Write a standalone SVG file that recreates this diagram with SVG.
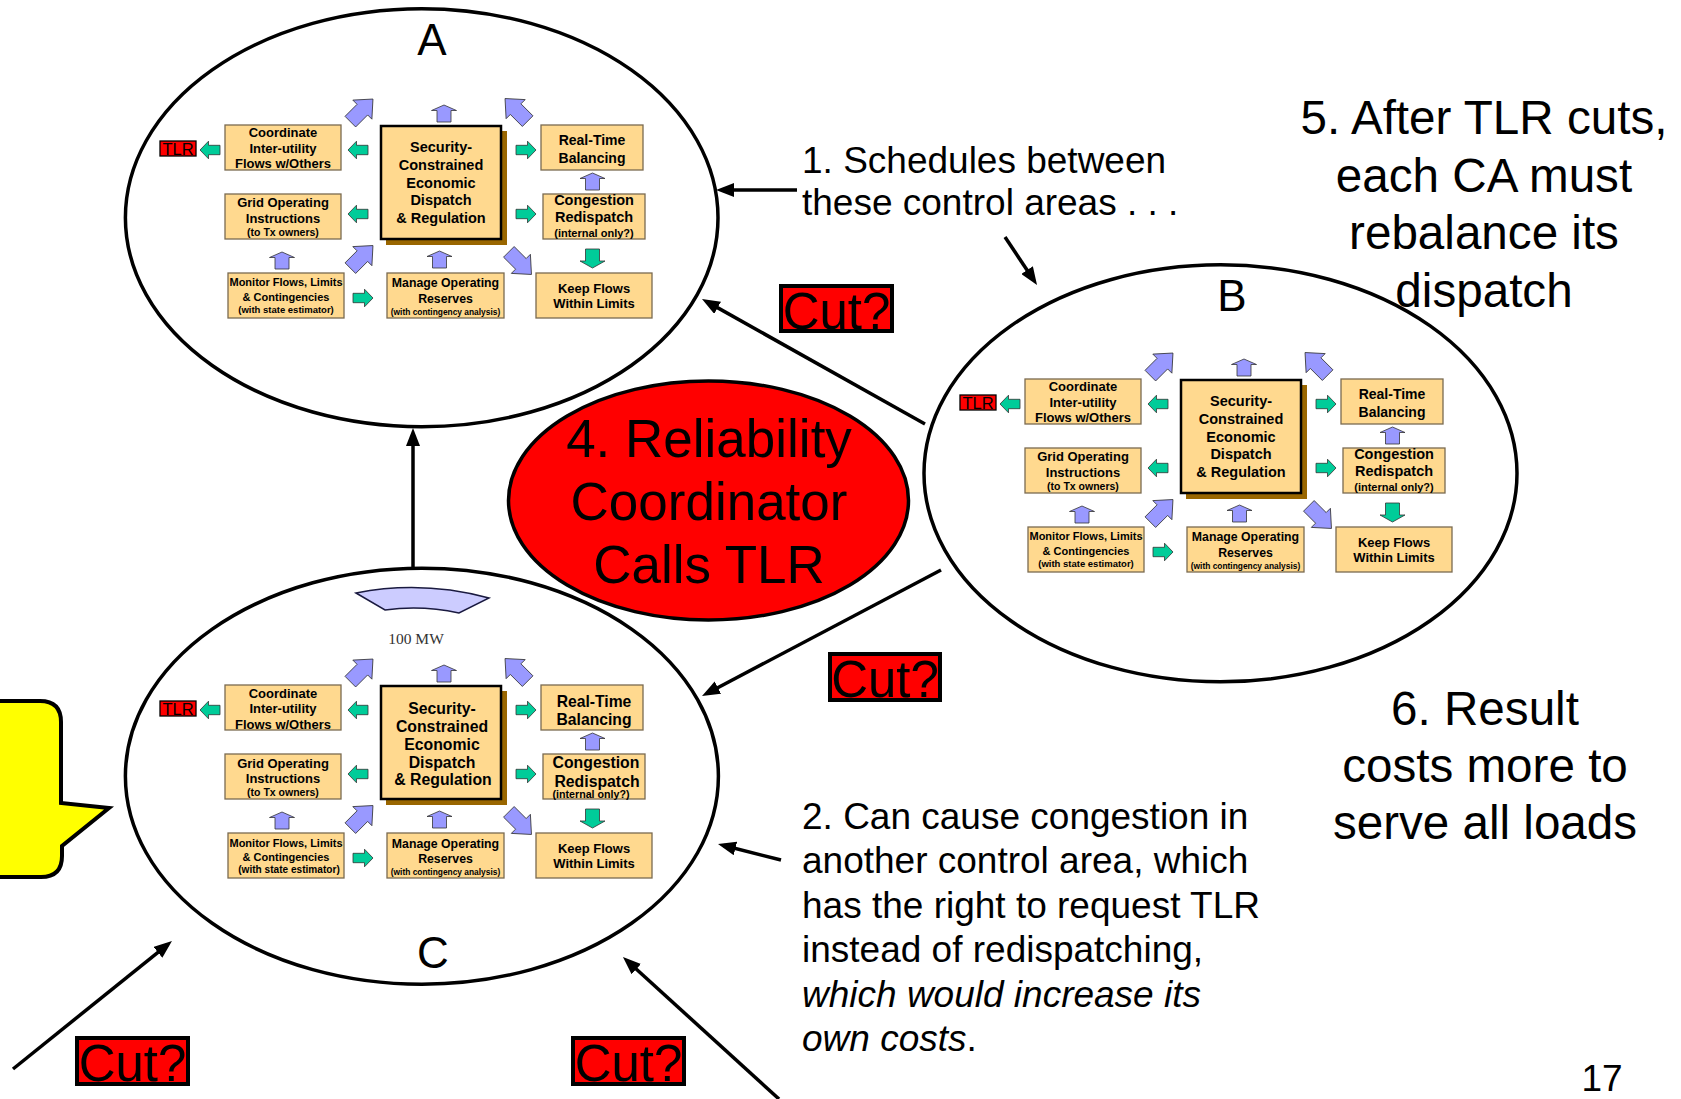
<svg xmlns="http://www.w3.org/2000/svg" xmlns:xlink="http://www.w3.org/1999/xlink" width="1681" height="1099" viewBox="0 0 1681 1099">
<style>
.bx{fill:#FFD98F;stroke:#7a6a50;stroke-width:1.3}
.cb{fill:#FFD98F;stroke:#000;stroke-width:2.5}
.sh{fill:#996600}
.t{font-family:"Liberation Sans",Arial,sans-serif;font-weight:bold;text-anchor:middle;fill:#000}
.g{fill:#00CC99;stroke:#333;stroke-width:0.8}
.p{fill:#9999FF;stroke:#333;stroke-width:0.8}
.tlr{fill:#FF0000;stroke:#000;stroke-width:1.3}
.tlrt{font-family:"Liberation Sans",Arial,sans-serif;font-size:16.5px;text-anchor:middle;fill:#000}
.ell{fill:none;stroke:#000;stroke-width:3.5}
.big{font-family:"Liberation Sans",Arial,sans-serif;fill:#000}
.cut{fill:#FF0000;stroke:#000;stroke-width:4}
.cutt{font-family:"Liberation Sans",Arial,sans-serif;font-size:51px;text-anchor:middle;fill:#000}
.con{stroke:#000;stroke-width:3.5;fill:none;marker-end:url(#ah)}
</style>
<defs>
<marker id="ah" viewBox="0 0 18 14" refX="12" refY="7" markerWidth="18" markerHeight="14" markerUnits="userSpaceOnUse" orient="auto">
<path d="M0,0 L18,7 L0,14 Z" fill="#000"/>
</marker>
<path id="gR" d="M-10,-4.7 H1.5 V-8.8 L10,0 L1.5,8.8 V4.7 H-10 Z"/>
<path id="pU" d="M-7,8.5 V-3 H-12.5 L0,-8.5 L12.5,-3 H7 V8.5 Z"/>
<path id="gD" d="M-7,-9.5 V2.5 H-12.5 L0,9.5 L12.5,2.5 H7 V-9.5 Z"/>
<path id="pDg" d="M-12.25,-7.5 H4.75 V-13.5 L19.75,0 L4.75,13.5 V7.5 H-12.25 Z"/>
</defs>

<rect width="1681" height="1099" fill="#fff"/>

<!-- control area ellipses -->
<g id="ellipseA"><ellipse class="ell" cx="421.7" cy="217.7" rx="296.3" ry="209"/><text class="big" x="432" y="55" font-size="44" text-anchor="middle">A</text></g>
<g id="ellipseB"><ellipse class="ell" cx="1220.5" cy="473.3" rx="296.5" ry="208.5"/><text class="big" x="1232" y="311" font-size="44" text-anchor="middle">B</text></g>
<g id="ellipseC"><ellipse class="ell" cx="421.9" cy="776.2" rx="296.5" ry="208"/><text class="big" x="433" y="968" font-size="44" text-anchor="middle">C</text></g>

<!-- block A -->
<g id="blockA">
<rect class="tlr" x="160" y="141" width="36" height="15"/><text class="tlrt" x="178" y="154.5">TLR</text>
<use href="#gR" class="g" transform="translate(210,150) rotate(180)"/>
<rect class="bx" x="225" y="125" width="116" height="45"/>
<text class="t" font-size="13" x="283" y="137">Coordinate</text>
<text class="t" font-size="13" x="283" y="152.5">Inter-utility</text>
<text class="t" font-size="13" x="283" y="168">Flows w/Others</text>
<use href="#gR" class="g" transform="translate(358,150) rotate(180)"/>
<rect class="bx" x="225" y="194" width="116" height="45"/>
<text class="t" font-size="13" x="283" y="207">Grid Operating</text>
<text class="t" font-size="13" x="283" y="222.5">Instructions</text>
<text class="t" font-size="10.5" x="283" y="236">(to Tx owners)</text>
<use href="#gR" class="g" transform="translate(358,214) rotate(180)"/>
<rect class="sh" x="386" y="131" width="121" height="114"/>
<rect class="cb" x="381" y="126" width="120" height="113"/>
<text class="t" font-size="14.5" x="441" y="152">Security-</text>
<text class="t" font-size="14.5" x="441" y="170">Constrained</text>
<text class="t" font-size="14.5" x="441" y="187.5">Economic</text>
<text class="t" font-size="14.5" x="441" y="205">Dispatch</text>
<text class="t" font-size="14.5" x="441" y="222.5">&amp; Regulation</text>
<use href="#gR" class="g" transform="translate(526,150)"/>
<use href="#gR" class="g" transform="translate(526,214)"/>
<rect class="bx" x="541" y="125" width="102" height="45"/>
<text class="t" font-size="14" x="592" y="145">Real-Time</text>
<text class="t" font-size="14" x="592" y="162.5">Balancing</text>
<use href="#pU" class="p" transform="translate(592.5,181.5)"/>
<rect class="bx" x="543" y="194" width="102" height="45"/>
<text class="t" font-size="14.5" x="594" y="205">Congestion</text>
<text class="t" font-size="14.5" x="594" y="222">Redispatch</text>
<text class="t" font-size="11" x="594" y="236.5">(internal only?)</text>
<use href="#gD" class="g" transform="translate(592.5,258.5)"/>
<rect class="bx" x="536" y="273" width="116" height="45"/>
<text class="t" font-size="13" x="594" y="292.5">Keep Flows</text>
<text class="t" font-size="13" x="594" y="308">Within Limits</text>
<rect class="bx" x="387" y="273" width="117" height="45"/>
<text class="t" font-size="12.3" x="445.5" y="286.5">Manage Operating</text>
<text class="t" font-size="12.3" x="445.5" y="302.5">Reserves</text>
<text class="t" font-size="8.4" x="445.5" y="315">(with contingency analysis)</text>
<rect class="bx" x="228" y="273" width="116" height="45"/>
<text class="t" font-size="11" x="286" y="286">Monitor Flows, Limits</text>
<text class="t" font-size="11" x="286" y="300.5">&amp; Contingencies</text>
<text class="t" font-size="9.5" x="286" y="313">(with state estimator)</text>
<use href="#gR" class="g" transform="translate(363,298)"/>
<use href="#pU" class="p" transform="translate(282,260.5)"/>
<use href="#pU" class="p" transform="translate(439.5,259.5)"/>
<use href="#pU" class="p" transform="translate(444,113.5)"/>
<use href="#pDg" class="p" transform="translate(359,113) rotate(-45)"/>
<use href="#pDg" class="p" transform="translate(519,112.5) rotate(-135)"/>
<use href="#pDg" class="p" transform="translate(359,259.5) rotate(-45)"/>
<use href="#pDg" class="p" transform="translate(517.5,260.5) rotate(45)"/>
</g>

<!-- block B -->
<g id="blockB" transform="translate(800,254)">
<rect class="tlr" x="160" y="141" width="36" height="15"/><text class="tlrt" x="178" y="154.5">TLR</text>
<use href="#gR" class="g" transform="translate(210,150) rotate(180)"/>
<rect class="bx" x="225" y="125" width="116" height="45"/>
<text class="t" font-size="13" x="283" y="137">Coordinate</text>
<text class="t" font-size="13" x="283" y="152.5">Inter-utility</text>
<text class="t" font-size="13" x="283" y="168">Flows w/Others</text>
<use href="#gR" class="g" transform="translate(358,150) rotate(180)"/>
<rect class="bx" x="225" y="194" width="116" height="45"/>
<text class="t" font-size="13" x="283" y="207">Grid Operating</text>
<text class="t" font-size="13" x="283" y="222.5">Instructions</text>
<text class="t" font-size="10.5" x="283" y="236">(to Tx owners)</text>
<use href="#gR" class="g" transform="translate(358,214) rotate(180)"/>
<rect class="sh" x="386" y="131" width="121" height="114"/>
<rect class="cb" x="381" y="126" width="120" height="113"/>
<text class="t" font-size="14.5" x="441" y="152">Security-</text>
<text class="t" font-size="14.5" x="441" y="170">Constrained</text>
<text class="t" font-size="14.5" x="441" y="187.5">Economic</text>
<text class="t" font-size="14.5" x="441" y="205">Dispatch</text>
<text class="t" font-size="14.5" x="441" y="222.5">&amp; Regulation</text>
<use href="#gR" class="g" transform="translate(526,150)"/>
<use href="#gR" class="g" transform="translate(526,214)"/>
<rect class="bx" x="541" y="125" width="102" height="45"/>
<text class="t" font-size="14" x="592" y="145">Real-Time</text>
<text class="t" font-size="14" x="592" y="162.5">Balancing</text>
<use href="#pU" class="p" transform="translate(592.5,181.5)"/>
<rect class="bx" x="543" y="194" width="102" height="45"/>
<text class="t" font-size="14.5" x="594" y="205">Congestion</text>
<text class="t" font-size="14.5" x="594" y="222">Redispatch</text>
<text class="t" font-size="11" x="594" y="236.5">(internal only?)</text>
<use href="#gD" class="g" transform="translate(592.5,258.5)"/>
<rect class="bx" x="536" y="273" width="116" height="45"/>
<text class="t" font-size="13" x="594" y="292.5">Keep Flows</text>
<text class="t" font-size="13" x="594" y="308">Within Limits</text>
<rect class="bx" x="387" y="273" width="117" height="45"/>
<text class="t" font-size="12.3" x="445.5" y="286.5">Manage Operating</text>
<text class="t" font-size="12.3" x="445.5" y="302.5">Reserves</text>
<text class="t" font-size="8.4" x="445.5" y="315">(with contingency analysis)</text>
<rect class="bx" x="228" y="273" width="116" height="45"/>
<text class="t" font-size="11" x="286" y="286">Monitor Flows, Limits</text>
<text class="t" font-size="11" x="286" y="300.5">&amp; Contingencies</text>
<text class="t" font-size="9.5" x="286" y="313">(with state estimator)</text>
<use href="#gR" class="g" transform="translate(363,298)"/>
<use href="#pU" class="p" transform="translate(282,260.5)"/>
<use href="#pU" class="p" transform="translate(439.5,259.5)"/>
<use href="#pU" class="p" transform="translate(444,113.5)"/>
<use href="#pDg" class="p" transform="translate(359,113) rotate(-45)"/>
<use href="#pDg" class="p" transform="translate(519,112.5) rotate(-135)"/>
<use href="#pDg" class="p" transform="translate(359,259.5) rotate(-45)"/>
<use href="#pDg" class="p" transform="translate(517.5,260.5) rotate(45)"/>
</g>

<!-- block C -->
<g id="blockC" transform="translate(0,560)">
<rect class="tlr" x="160" y="141" width="36" height="15"/><text class="tlrt" x="178" y="154.5">TLR</text>
<use href="#gR" class="g" transform="translate(210,150) rotate(180)"/>
<rect class="bx" x="225" y="125" width="116" height="45"/>
<text class="t" font-size="13" x="283" y="137.5">Coordinate</text>
<text class="t" font-size="13" x="283" y="153">Inter-utility</text>
<text class="t" font-size="13" x="283" y="168.5">Flows w/Others</text>
<use href="#gR" class="g" transform="translate(358,150) rotate(180)"/>
<rect class="bx" x="225" y="194" width="116" height="45"/>
<text class="t" font-size="13" x="283" y="208">Grid Operating</text>
<text class="t" font-size="13" x="283" y="223.3">Instructions</text>
<text class="t" font-size="10.5" x="283" y="236">(to Tx owners)</text>
<use href="#gR" class="g" transform="translate(358,214) rotate(180)"/>
<rect class="sh" x="386" y="131" width="121" height="114"/>
<rect class="cb" x="381" y="126" width="120" height="113"/>
<text class="t" font-size="15.8" x="442" y="154">Security-</text>
<text class="t" font-size="15.8" x="442" y="172.3">Constrained</text>
<text class="t" font-size="15.8" x="442" y="190">Economic</text>
<text class="t" font-size="15.8" x="442" y="208.3">Dispatch</text>
<text class="t" font-size="15.8" x="443" y="225">&amp; Regulation</text>
<use href="#gR" class="g" transform="translate(526,150)"/>
<use href="#gR" class="g" transform="translate(526,214)"/>
<rect class="bx" x="541" y="125" width="102" height="45"/>
<text class="t" font-size="15.7" x="594" y="146.7">Real-Time</text>
<text class="t" font-size="15.7" x="594" y="165">Balancing</text>
<use href="#pU" class="p" transform="translate(592.5,181.5)"/>
<rect class="bx" x="543" y="194" width="102" height="45"/>
<text class="t" font-size="15.8" x="596" y="208">Congestion</text>
<text class="t" font-size="15.8" x="597" y="226.5">Redispatch</text>
<text class="t" font-size="10.7" x="591" y="237.7">(internal only?)</text>
<use href="#gD" class="g" transform="translate(592.5,258.5)"/>
<rect class="bx" x="536" y="273" width="116" height="45"/>
<text class="t" font-size="13" x="594" y="292.7">Keep Flows</text>
<text class="t" font-size="13" x="594" y="308.3">Within Limits</text>
<rect class="bx" x="387" y="273" width="117" height="45"/>
<text class="t" font-size="12.3" x="445.5" y="288">Manage Operating</text>
<text class="t" font-size="12.3" x="445.5" y="303">Reserves</text>
<text class="t" font-size="8.4" x="445.5" y="314.5">(with contingency analysis)</text>
<rect class="bx" x="228" y="273" width="116" height="45"/>
<text class="t" font-size="11" x="286" y="286.7">Monitor Flows, Limits</text>
<text class="t" font-size="11" x="286" y="300.7">&amp; Contingencies</text>
<text class="t" font-size="10.1" x="289" y="313.3">(with state estimator)</text>
<use href="#gR" class="g" transform="translate(363,298)"/>
<use href="#pU" class="p" transform="translate(282,260.5)"/>
<use href="#pU" class="p" transform="translate(439.5,259.5)"/>
<use href="#pU" class="p" transform="translate(444,113.5)"/>
<use href="#pDg" class="p" transform="translate(359,113) rotate(-45)"/>
<use href="#pDg" class="p" transform="translate(519,112.5) rotate(-135)"/>
<use href="#pDg" class="p" transform="translate(359,259.5) rotate(-45)"/>
<use href="#pDg" class="p" transform="translate(517.5,260.5) rotate(45)"/>
</g>

<!-- flow shape and label in C -->
<g id="flow100">
<path d="M356,593 Q422,580 489,598 L459,613 Q422,605 385,610 Z" fill="#CCCCFF" stroke="#1a1a40" stroke-width="1.5"/>
<text x="416" y="644" font-family="'Liberation Serif','Times New Roman',serif" font-size="15.5" text-anchor="middle" fill="#333">100 MW</text>
</g>

<!-- connectors -->
<g id="connectors">
<line class="con" x1="797" y1="190" x2="722" y2="190"/>
<line class="con" x1="1005" y1="237" x2="1033.7" y2="280"/>
<line class="con" x1="925" y1="424" x2="707.2" y2="301.9"/>
<line class="con" x1="941" y1="570" x2="707.3" y2="693.2"/>
<line class="con" x1="413" y1="568" x2="413" y2="434"/>
<line class="con" x1="781" y1="860" x2="723.8" y2="845.5"/>
<line class="con" x1="13" y1="1069" x2="167.3" y2="944.8"/>
<line class="con" x1="779" y1="1099" x2="627.4" y2="961"/>
</g>

<!-- reliability coordinator -->
<g id="rc">
<ellipse cx="708.5" cy="500.5" rx="200" ry="119.5" fill="#FF0000" stroke="#000" stroke-width="3.5"/>
<text class="big" font-size="53" text-anchor="middle" x="709" y="457">4. Reliability</text>
<text class="big" font-size="53" text-anchor="middle" x="709" y="520">Coordinator</text>
<text class="big" font-size="53" text-anchor="middle" x="709" y="583">Calls TLR</text>
</g>

<!-- cut labels -->
<g id="cut1"><rect class="cut" x="781" y="286" width="111" height="45"/><text class="cutt" x="836.5" y="329">Cut?</text></g>
<g id="cut2"><rect class="cut" x="830" y="654" width="110" height="46"/><text class="cutt" x="885" y="697">Cut?</text></g>
<g id="cut3"><rect class="cut" x="77" y="1038" width="111" height="46"/><text class="cutt" x="132.5" y="1081">Cut?</text></g>
<g id="cut4"><rect class="cut" x="573" y="1038" width="111" height="46"/><text class="cutt" x="628.5" y="1081">Cut?</text></g>

<!-- callout -->
<g id="callout">
<path d="M-5,701 H40 Q61,701 61,722 V803 L109,808 L62,846 V856 Q62,877 41,877 H-5 Z" fill="#FFFF00" stroke="#000" stroke-width="4"/>
</g>

<!-- texts -->
<g id="text1" class="big" font-size="37">
<text x="802" y="172.5">1. Schedules between</text>
<text x="802" y="215">these control areas . . .</text>
</g>
<g id="text2" class="big" font-size="37">
<text x="802" y="829">2. Can cause congestion in</text>
<text x="802" y="873">another control area, which</text>
<text x="802" y="917.5">has the right to request TLR</text>
<text x="802" y="962">instead of redispatching,</text>
<text x="802" y="1006.5" font-style="italic">which would increase its</text>
<text x="802" y="1051"><tspan font-style="italic">own costs</tspan>.</text>
</g>
<g id="text5" class="big" font-size="47.6" text-anchor="middle">
<text x="1484" y="134">5. After TLR cuts,</text>
<text x="1484" y="191.5">each CA must</text>
<text x="1484" y="249">rebalance its</text>
<text x="1484" y="306.5">dispatch</text>
</g>
<g id="text6" class="big" font-size="47.6" text-anchor="middle">
<text x="1485" y="725">6. Result</text>
<text x="1485" y="782">costs more to</text>
<text x="1485" y="839">serve all loads</text>
</g>
<text id="pagenum" class="big" font-size="37" x="1602" y="1091" text-anchor="middle">17</text>
</svg>
